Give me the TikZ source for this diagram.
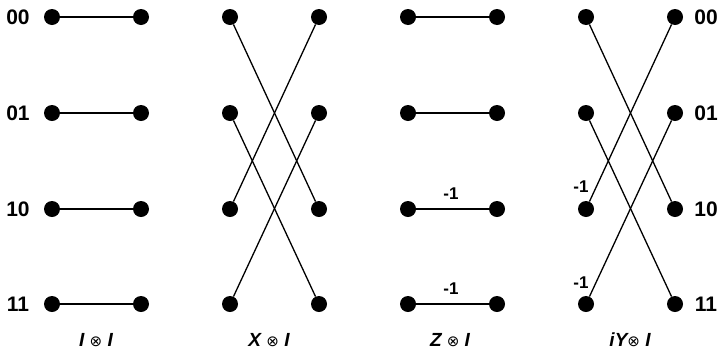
\documentclass[tikz,border=0pt]{standalone}
\usepackage{fontspec}
\setmainfont{Liberation Sans}
\newfontfamily\symfont{DejaVu Sans}
\newcommand{\tens}{{\normalfont\symfont\fontsize{15}{15}\selectfont ⊗}}
\begin{document}
\begin{tikzpicture}[x=1pt,y=-1pt,
  dot/.style={circle,fill=black,inner sep=0pt,minimum size=16pt},
  wire/.style={line width=1.3pt},
  rowlab/.style={font=\fontsize{21}{21}\selectfont\bfseries,inner sep=0pt},
  neg/.style={font=\fontsize{17}{17}\selectfont\bfseries,inner sep=0pt},
  oplab/.style={font=\fontsize{19}{19}\selectfont\bfseries\itshape,inner sep=0pt,anchor=base}]
\useasboundingbox (0,0) rectangle (722,354);
% dots
\foreach \g/\xl/\xr in {a/52/141, b/230/319, c/408/497, d/586/675}{
  \foreach \r/\y in {0/17, 1/113, 2/209, 3/304}{
    \node[dot] (\g L\r) at (\xl,\y) {};
    \node[dot] (\g R\r) at (\xr,\y) {};
  }
}
% row labels
\node[rowlab] (l0) at (18,17) {00};
\node[rowlab] (l1) at (18,113) {01};
\node[rowlab] (l2) at (18,209) {10};
\node[rowlab] (l3) at (18,304) {11};
\node[rowlab] (r0) at (706,17) {00};
\node[rowlab] (r1) at (706,113) {01};
\node[rowlab] (r2) at (706,209) {10};
\node[rowlab] (r3) at (706,304) {11};
% I x I
\foreach \r in {0,1,2,3}{ \draw[wire] (aL\r) -- (aR\r); }
% X x I
\draw[wire] (bL0) -- (bR2);
\draw[wire] (bL1) -- (bR3);
\draw[wire] (bL2) -- (bR0);
\draw[wire] (bL3) -- (bR1);
% Z x I
\foreach \r in {0,1,2,3}{ \draw[wire] (cL\r) -- (cR\r); }
\node[neg] (zn2) at (451,194) {-1};
\node[neg] (zn3) at (451,289) {-1};
% iY x I
\draw[wire] (dL0) -- (dR2);
\draw[wire] (dL1) -- (dR3);
\draw[wire] (dL2) -- (dR0);
\draw[wire] (dL3) -- (dR1);
\node[neg] (yn2) at (581,187) {-1};
\node[neg] (yn3) at (581,283) {-1};
% operator labels
\node[oplab] (o1) at (96,346) {I \tens\ I};
\node[oplab] (o2) at (269,346) {X \tens\ I};
\node[oplab] (o3) at (450,346) {Z \tens\ I};
\node[oplab] (o4) at (630,346) {iY\tens\ I};
\end{tikzpicture}
\end{document}
